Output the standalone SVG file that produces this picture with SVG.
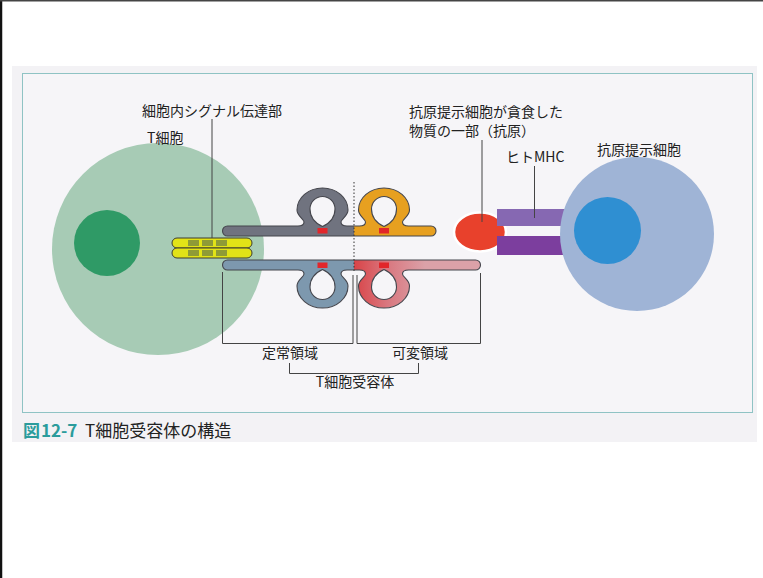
<svg xmlns="http://www.w3.org/2000/svg" width="763" height="578" viewBox="0 0 763 578">
  <defs>
    <style>
      .lbl { font-family: "Noto Sans CJK JP", "Noto Sans", sans-serif; font-size: 14px; fill: #222; }
      .cap { font-family: "Noto Sans CJK JP", "Noto Sans", sans-serif; font-size: 17px; fill: #222; }
      .capnum { fill: #2b9c9c; font-weight: bold; }
      .lead { stroke: #444; stroke-width: 1; fill: none; }
      .chain { fill-rule: evenodd; stroke: none; }
      .chain-edge { fill: none; stroke: #45464d; stroke-width: 1.1; stroke-linejoin: round; }
      .bond { fill: #e2262a; }
    </style>
    <linearGradient id="varGrad" gradientUnits="userSpaceOnUse" x1="356" y1="0" x2="425" y2="0">
      <stop offset="0" stop-color="#d9474b"/>
      <stop offset="0.45" stop-color="#d9777f"/>
      <stop offset="1" stop-color="#dba1a8"/>
    </linearGradient>
    <clipPath id="constClip"><rect x="0" y="0" width="354" height="578"/></clipPath>
    <clipPath id="varClip"><rect x="354" y="0" width="409" height="578"/></clipPath>
    <!-- upper chain: backbone with two omega loops pointing up; loop holes are sub-paths -->
    <path id="upperChain" d="M 227.5 226 H 298 Q 304 226 304 222 C 304 219 297 216 297 210 A 25.5 22 0 0 1 348 210 C 348 216 341 219 341 222 Q 341 226 347 226
      H 359.5 Q 365.5 226 365.5 222 C 365.5 219 358.5 216 358.5 210 A 25.5 22 0 0 1 409.5 210 C 409.5 216 402.5 219 402.5 222 Q 402.5 226 408.5 226
      H 431 A 5 5 0 0 1 431 236 H 227.5 A 5 5 0 0 1 227.5 226 Z
      M 322.5 226.5 C 315 223 310 218 310 209 A 12.5 12.5 0 0 1 335 209 C 335 218 330 223 322.5 226.5 Z
      M 384 226.5 C 376.5 223 371.5 218 371.5 209 A 12.5 12.5 0 0 1 396.5 209 C 396.5 218 391.5 223 384 226.5 Z"/>
    <!-- lower chain: mirror image, loops pointing down -->
    <path id="lowerChain" d="M 227.5 270 H 298 Q 304 270 304 274 C 304 277 297 280 297 286 A 25.5 22 0 0 0 348 286 C 348 280 341 277 341 274 Q 341 270 347 270
      H 359.5 Q 365.5 270 365.5 274 C 365.5 277 358.5 280 358.5 286 A 25.5 22 0 0 0 409.5 286 C 409.5 280 402.5 277 402.5 274 Q 402.5 270 408.5 270
      H 475.5 A 5 5 0 0 0 475.5 260 H 227.5 A 5 5 0 0 0 227.5 270 Z
      M 322.5 269.5 C 315 273 310 278 310 287 A 12.5 12.5 0 0 0 335 287 C 335 278 330 273 322.5 269.5 Z
      M 384 269.5 C 376.5 273 371.5 278 371.5 287 A 12.5 12.5 0 0 0 396.5 287 C 396.5 278 391.5 273 384 269.5 Z"/>
  </defs>

  <!-- page -->
  <rect x="0" y="0" width="763" height="578" fill="#ffffff"/>
  <rect x="12" y="66" width="745" height="376" fill="#f3f2f5"/>
  <rect x="22.5" y="73.5" width="730" height="339" fill="#f6f5f8" stroke="#8fc3c4" stroke-width="1"/>
  <line x1="1" y1="0" x2="1" y2="578" stroke="#111" stroke-width="2.5"/>
  <line x1="0" y1="0.8" x2="763" y2="0.8" stroke="#444" stroke-width="1.6"/>

  <!-- T cell -->
  <g id="t-cell">
    <circle cx="158" cy="249" r="106" fill="#a7cbb5"/>
    <circle cx="107" cy="243" r="33" fill="#2f9a66"/>
  </g>

  <!-- intracellular signalling part -->
  <g id="signal-part">
    <rect x="172" y="238" width="80" height="10" rx="5" fill="#e2e317" stroke="#3d3d30" stroke-width="1"/>
    <rect x="172" y="248" width="80" height="10" rx="5" fill="#e2e317" stroke="#3d3d30" stroke-width="1"/>
    <g fill="#8f9b36">
      <rect x="188" y="240" width="11" height="6"/>
      <rect x="202" y="240" width="11" height="6"/>
      <rect x="216" y="240" width="11" height="6"/>
      <rect x="188" y="250" width="11" height="6"/>
      <rect x="202" y="250" width="11" height="6"/>
      <rect x="216" y="250" width="11" height="6"/>
    </g>
  </g>

  <!-- T cell receptor: constant region (left of the dotted line) and variable region -->
  <g id="tcr">
    <use href="#upperChain" class="chain" fill="#70737f" clip-path="url(#constClip)"/>
    <use href="#upperChain" class="chain" fill="#e7a020" clip-path="url(#varClip)"/>
    <use href="#upperChain" class="chain-edge"/>

    <use href="#lowerChain" class="chain" fill="#7d98ae" clip-path="url(#constClip)"/>
    <use href="#lowerChain" class="chain" fill="url(#varGrad)" clip-path="url(#varClip)"/>
    <use href="#lowerChain" class="chain-edge"/>

    <!-- disulfide bonds at the loop necks -->
    <rect class="bond" x="317.5" y="228" width="10" height="5.5"/>
    <rect class="bond" x="379" y="228" width="10" height="5.5"/>
    <rect class="bond" x="317.5" y="262.5" width="10" height="5.5"/>
    <rect class="bond" x="379" y="262.5" width="10" height="5.5"/>

    <line x1="354" y1="182" x2="354" y2="272" stroke="#333" stroke-width="1" stroke-dasharray="1.5 2"/>
  </g>

  <!-- antigen -->
  <g id="antigen">
    <ellipse cx="480" cy="232" rx="26" ry="19.5" fill="#e8412c" stroke="#ffffff" stroke-width="2.5"/>
  </g>

  <!-- human MHC -->
  <g id="mhc">
    <rect x="497" y="209" width="70" height="17" fill="#8668b2"/>
    <rect x="497" y="236" width="70" height="19" fill="#7c3e9e"/>
  </g>

  <!-- antigen-presenting cell -->
  <g id="apc">
    <circle cx="637" cy="234" r="77" fill="#9fb4d6"/>
    <circle cx="607.5" cy="230.5" r="33.5" fill="#2f8fd2"/>
  </g>

  <!-- leader lines and brackets -->
  <g id="connectors">
    <line class="lead" x1="212" y1="119" x2="212" y2="238"/>
    <line class="lead" x1="482" y1="140" x2="482" y2="222"/>
    <line class="lead" x1="534.5" y1="166" x2="534.5" y2="218"/>
    <polyline class="lead" points="222.5,272 222.5,343.5 353,343.5 353,275"/>
    <polyline class="lead" points="357,275 357,343.5 480.5,343.5 480.5,273"/>
    <polyline class="lead" points="289.5,363 289.5,373.5 418.5,373.5 418.5,363"/>
  </g>

  <!-- labels -->
  <g id="labels">
    <text class="lbl" x="142" y="116">細胞内シグナル伝達部</text>
    <text class="lbl" x="147" y="143">T細胞</text>
    <text class="lbl" x="409" y="117">抗原提示細胞が貪食した</text>
    <text class="lbl" x="409" y="136">物質の一部（抗原）</text>
    <text class="lbl" x="506" y="162">ヒトMHC</text>
    <text class="lbl" x="597" y="155">抗原提示細胞</text>
    <text class="lbl" x="262" y="358">定常領域</text>
    <text class="lbl" x="392" y="358">可変領域</text>
    <text class="lbl" x="355" y="387" text-anchor="middle">T細胞受容体</text>
  </g>

  <!-- caption -->
  <g id="caption">
    <text class="cap" x="23" y="437"><tspan class="capnum">図</tspan><tspan class="capnum" x="41">12-7</tspan><tspan x="85">T細胞受容体の構造</tspan></text>
  </g>
</svg>
